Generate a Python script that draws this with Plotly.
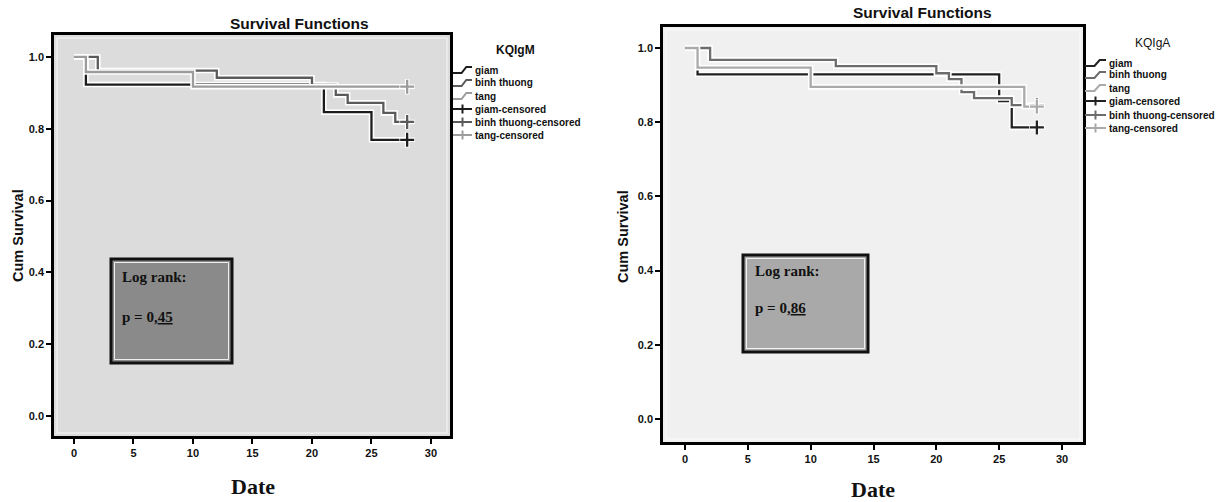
import plotly.graph_objects as go

W, H = 1226, 502

# ---------------- data ----------------
groups = ["giam", "binh thuong", "tang"]

# Left panel: KQIgM
igm_giam_t = [0, 1, 21, 25, 28]
igm_giam_s = [1.0, 0.923, 0.846, 0.769, 0.769]
igm_binh_t = [0, 2, 12, 20, 22, 23, 26, 27, 28]
igm_binh_s = [1.0, 0.962, 0.942, 0.922, 0.894, 0.872, 0.844, 0.819, 0.819]
igm_tang_t = [0, 1, 10, 28]
igm_tang_s = [1.0, 0.958, 0.917, 0.917]
igm_censor_t = [28, 28, 28]
igm_censor_s = [0.769, 0.819, 0.917]
igm_p = "0,45"

# Right panel: KQIgA
iga_giam_t = [0, 1, 25, 26, 28]
iga_giam_s = [1.0, 0.929, 0.857, 0.786, 0.786]
iga_binh_t = [0, 2, 12, 20, 21, 22, 23, 26, 28]
iga_binh_s = [1.0, 0.968, 0.951, 0.932, 0.916, 0.881, 0.865, 0.846, 0.846]
iga_tang_t = [0, 1, 10, 27, 28]
iga_tang_s = [1.0, 0.947, 0.895, 0.842, 0.842]
iga_censor_t = [28, 28, 28]
iga_censor_s = [0.786, 0.846, 0.842]
iga_p = "0,86"

x_ticks = [0, 5, 10, 15, 20, 25, 30]
y_ticks = [0.0, 0.2, 0.4, 0.6, 0.8, 1.0]
legend_labels = ["giam", "binh thuong", "tang",
                 "giam-censored", "binh thuong-censored", "tang-censored"]

# ---------------- helpers ----------------
def px(x):
    return x / W

def py(y):
    return 1 - y / H

SANS = "Liberation Sans, Arial, sans-serif"
SERIF = "Liberation Serif, Times New Roman, serif"

panels = [
    dict(name="KQIgM", name_bold=True, xa="x", ya="y",
         dom_x=(54, 450), dom_y=(35, 436),
         xr=(-1.68, 31.6), yr=(-0.0557, 1.061),
         bg="#dcdcdc", cols=["#1c1c1c", "#5a5a5a", "#9c9c9c"], box="#8a8a8a",
         series=[(igm_giam_t, igm_giam_s), (igm_binh_t, igm_binh_s), (igm_tang_t, igm_tang_s)],
         cens=(igm_censor_t, igm_censor_s), p=igm_p,
         title_xy=(299, 24), ytitle_xy=(18, 236), xtitle_xy=(253, 486),
         leg_title_xy=(515, 50), leg_x=(453, 472), leg_rows=[70, 83, 96, 109, 122, 135],
         box_xy=(111, 259, 232, 363), txt1=(120, 277), txt2=(120, 317)),
    dict(name="KQIgA", name_bold=False, xa="x2", ya="y2",
         dom_x=(663, 1083), dom_y=(27, 442),
         xr=(-1.75, 31.67), yr=(-0.062, 1.0566),
         bg="#f0f0f0", cols=["#222222", "#6c6c6c", "#aaaaaa"], box="#a9a9a9",
         series=[(iga_giam_t, iga_giam_s), (iga_binh_t, iga_binh_s), (iga_tang_t, iga_tang_s)],
         cens=(iga_censor_t, iga_censor_s), p=iga_p,
         title_xy=(922, 13), ytitle_xy=(623, 237), xtitle_xy=(873, 489),
         leg_title_xy=(1152, 43), leg_x=(1085, 1106), leg_rows=[63, 75, 88, 101, 115, 128],
         box_xy=(743, 255, 868, 352), txt1=(753, 271), txt2=(753, 308)),
]

fig = go.Figure()
shapes = []
annotations = []
layout_axes = {}

for i, P in enumerate(panels):
    xa, ya = P["xa"], P["ya"]
    # curves with white halo
    for (t, s), c in zip(P["series"], P["cols"]):
        fig.add_trace(go.Scatter(x=t, y=s, mode="lines", line=dict(color="white", width=5.5, shape="hv"),
                                 xaxis=xa, yaxis=ya, showlegend=False, hoverinfo="skip"))
        fig.add_trace(go.Scatter(x=t, y=s, mode="lines", line=dict(color=c, width=2.3, shape="hv"),
                                 xaxis=xa, yaxis=ya, showlegend=False))
    ct, cs = P["cens"]
    for k, c in enumerate(P["cols"]):
        fig.add_trace(go.Scatter(x=[ct[k]], y=[cs[k]], mode="markers",
                                 marker=dict(symbol="cross-thin", size=11, line=dict(color="white", width=4.5)),
                                 xaxis=xa, yaxis=ya, showlegend=False, hoverinfo="skip"))
        fig.add_trace(go.Scatter(x=[ct[k]], y=[cs[k]], mode="markers",
                                 marker=dict(symbol="cross-thin", size=10, line=dict(color=c, width=2.3)),
                                 xaxis=xa, yaxis=ya, showlegend=False))

    axis_common = dict(showline=True, mirror=True, linecolor="black", linewidth=2.5,
                       ticks="outside", ticklen=5, tickwidth=2, tickcolor="black",
                       showgrid=False, zeroline=False,
                       tickfont=dict(family=SANS, size=11, color="#111111", weight="bold"))
    xkey = "xaxis" if i == 0 else "xaxis2"
    ykey = "yaxis" if i == 0 else "yaxis2"
    layout_axes[xkey] = dict(domain=[px(P["dom_x"][0]), px(P["dom_x"][1])], range=list(P["xr"]),
                             tickvals=x_ticks, anchor=ya, **axis_common)
    layout_axes[ykey] = dict(domain=[py(P["dom_y"][1]), py(P["dom_y"][0])], range=list(P["yr"]),
                             tickvals=y_ticks, tickformat=".1f", anchor=xa, **axis_common)

    # plot background
    shapes.append(dict(type="rect", xref="paper", yref="paper", layer="below",
                       x0=px(P["dom_x"][0]), x1=px(P["dom_x"][1]),
                       y0=py(P["dom_y"][1]), y1=py(P["dom_y"][0]),
                       fillcolor=P["bg"], line=dict(width=0)))
    shapes.append(dict(type="rect", xref="paper", yref="paper", layer="below",
                       x0=px(P["dom_x"][0] + 3), x1=px(P["dom_x"][1] - 3),
                       y0=py(P["dom_y"][1] - 3), y1=py(P["dom_y"][0] + 3),
                       fillcolor="rgba(0,0,0,0)", line=dict(width=1, color="rgba(255,255,255,0.8)")))

    # titles
    annotations.append(dict(text="Survival Functions", x=px(P["title_xy"][0]), y=py(P["title_xy"][1]),
                            xref="paper", yref="paper", showarrow=False, xanchor="center", yanchor="middle",
                            font=dict(family=SANS, size=15.5, color="#111111", weight="bold")))
    annotations.append(dict(text="Cum Survival", x=px(P["ytitle_xy"][0]), y=py(P["ytitle_xy"][1]),
                            xref="paper", yref="paper", showarrow=False, textangle=-90,
                            xanchor="center", yanchor="middle",
                            font=dict(family=SANS, size=14.5, color="#111111", weight="bold")))
    annotations.append(dict(text="Date", x=px(P["xtitle_xy"][0]), y=py(P["xtitle_xy"][1]),
                            xref="paper", yref="paper", showarrow=False, xanchor="center", yanchor="middle",
                            font=dict(family=SERIF, size=22, color="#111111", weight="bold")))

    # legend
    annotations.append(dict(text=P["name"], x=px(P["leg_title_xy"][0]), y=py(P["leg_title_xy"][1]),
                            xref="paper", yref="paper", showarrow=False, xanchor="center", yanchor="middle",
                            font=dict(family=SANS, size=12, color="#111111",
                                      weight="bold" if P["name_bold"] else "normal")))
    lx0, lx1 = P["leg_x"]
    for r, (lab, yy) in enumerate(zip(legend_labels, P["leg_rows"])):
        c = P["cols"][r % 3]
        if r < 3:
            xm1 = lx0 + (lx1 - lx0) * 0.45
            xm2 = lx0 + (lx1 - lx0) * 0.7
            path = (f"M {px(lx0)},{py(yy + 3)} L {px(xm1)},{py(yy + 3)} "
                    f"L {px(xm2)},{py(yy - 3)} L {px(lx1)},{py(yy - 3)}")
            shapes.append(dict(type="path", xref="paper", yref="paper", path=path,
                               line=dict(color=c, width=2)))
        else:
            xc = (lx0 + lx1) / 2
            shapes.append(dict(type="line", xref="paper", yref="paper",
                               x0=px(lx0), x1=px(lx1), y0=py(yy), y1=py(yy), line=dict(color=c, width=2)))
            shapes.append(dict(type="line", xref="paper", yref="paper",
                               x0=px(xc), x1=px(xc), y0=py(yy - 4.5), y1=py(yy + 4.5), line=dict(color=c, width=2)))
        annotations.append(dict(text=lab, x=px(lx1 + 1), y=py(yy), xref="paper", yref="paper",
                                showarrow=False, xanchor="left", yanchor="middle",
                                font=dict(family=SANS, size=10, color="#111111", weight="bold")))

    # Log rank box
    bx0, by0, bx1, by1 = P["box_xy"]
    shapes.append(dict(type="rect", xref="paper", yref="paper",
                       x0=px(bx0), x1=px(bx1), y0=py(by1), y1=py(by0),
                       fillcolor=P["box"], line=dict(color="#111111", width=3)))
    shapes.append(dict(type="rect", xref="paper", yref="paper",
                       x0=px(bx0 + 3.5), x1=px(bx1 - 3.5), y0=py(by1 - 3.5), y1=py(by0 + 3.5),
                       fillcolor="rgba(0,0,0,0)", line=dict(color="rgba(255,255,255,0.85)", width=1)))
    annotations.append(dict(text="Log rank:", x=px(P["txt1"][0]), y=py(P["txt1"][1]),
                            xref="paper", yref="paper", showarrow=False, xanchor="left", yanchor="middle",
                            font=dict(family=SERIF, size=15, color="#111111", weight="bold")))
    pint, pdec = P["p"].split(",")
    annotations.append(dict(text=f"p = {pint},<span style='text-decoration:underline dotted'>{pdec}</span>",
                            x=px(P["txt2"][0]), y=py(P["txt2"][1]),
                            xref="paper", yref="paper", showarrow=False, xanchor="left", yanchor="middle",
                            font=dict(family=SERIF, size=15, color="#111111", weight="bold")))

fig.update_layout(
    width=W, height=H,
    margin=dict(l=0, r=0, t=0, b=0),
    paper_bgcolor="white",
    plot_bgcolor="rgba(0,0,0,0)",
    showlegend=False,
    shapes=shapes,
    annotations=annotations,
    **layout_axes,
)

fig.write_html("out.html",
               config={"displayModeBar": False},
               post_script="document.body.style.margin='0px';document.body.style.overflow='hidden';")
